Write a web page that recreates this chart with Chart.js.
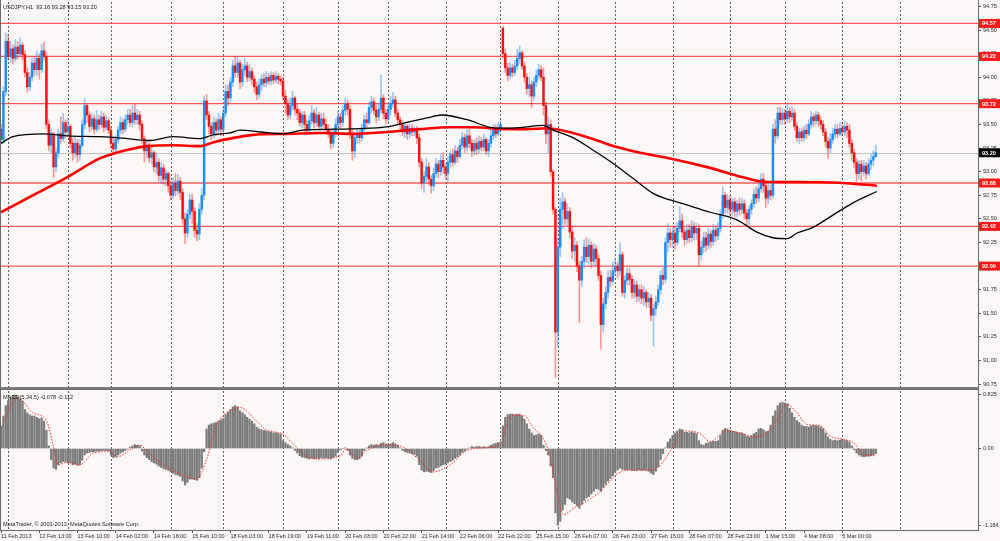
<!DOCTYPE html>
<html>
<head>
<meta charset="utf-8">
<script src="https://cdn.jsdelivr.net/npm/chart.js@4.4.0/dist/chart.umd.min.js"></script>
<style>
  html, body { margin: 0; padding: 0; background: #fcf8f7; }
  #wrap { position: relative; width: 1000px; height: 541px; overflow: hidden; }
  canvas { position: absolute; left: 0; }
  #priceCanvas { top: 0; }
  #macdCanvas { top: 389px; }
</style>
</head>
<body>
<div id="wrap">
  <canvas id="priceCanvas" width="1000" height="389"></canvas>
  <canvas id="macdCanvas" width="1000" height="152"></canvas>
</div>
<script>
// USDJPY H1 candles, one entry per hourly bar
const opens = [
  93.45,93.34,93.85,94.38,94.22,94.30,94.20,94.32,94.25,94.34,
  94.24,94.05,93.90,94.00,94.15,94.08,94.20,94.08,94.28,94.22,
  93.50,93.28,93.40,93.05,93.20,93.40,93.35,93.52,93.42,93.48,
  93.30,93.20,93.30,93.18,93.28,93.50,93.70,93.60,93.48,93.56,
  93.45,93.55,93.50,93.58,93.47,93.54,93.44,93.30,93.24,93.34,
  93.44,93.52,93.45,93.55,93.60,93.52,93.62,93.55,93.60,93.50,
  93.35,93.22,93.28,93.15,93.20,93.05,93.10,92.96,93.04,92.92,
  92.98,92.85,92.75,92.88,92.80,92.90,92.78,92.50,92.35,92.55,
  92.70,92.58,92.38,92.34,92.60,92.75,93.75,93.60,93.48,93.40,
  93.52,93.44,93.55,93.45,93.62,93.85,93.78,93.95,94.12,94.05,
  94.15,93.95,94.08,94.12,94.00,94.06,93.98,93.90,93.82,93.92,
  93.98,93.94,94.00,93.96,94.02,93.97,94.01,93.98,93.96,93.80,
  93.72,93.60,93.70,93.78,93.66,93.62,93.52,93.60,93.50,93.44,
  93.54,93.62,93.52,93.60,93.48,93.56,93.50,93.45,93.40,93.30,
  93.40,93.50,93.58,93.52,93.65,93.72,93.66,93.40,93.22,93.36,
  93.40,93.36,93.45,93.55,93.52,93.68,93.74,93.65,93.58,93.66,
  93.78,93.62,93.56,93.66,93.72,93.76,93.62,93.55,93.50,93.42,
  93.48,93.40,93.46,93.42,93.44,93.36,93.10,92.88,92.95,93.05,
  92.92,92.85,92.98,93.08,93.00,93.12,93.05,92.98,93.10,93.18,
  93.10,93.22,93.16,93.28,93.36,93.26,93.38,93.30,93.22,93.30,
  93.24,93.32,93.26,93.34,93.22,93.30,93.38,93.44,93.40,93.46,
  94.52,94.25,94.10,94.02,94.10,94.05,94.12,94.20,94.26,94.12,
  94.00,93.88,93.92,93.80,93.95,94.02,94.08,94.00,93.70,93.40,
  93.50,93.00,92.60,91.30,92.20,92.60,92.68,92.50,92.58,92.36,
  92.16,92.22,92.00,91.85,92.05,92.20,92.10,92.22,92.05,92.18,
  92.08,91.90,91.38,91.60,91.72,91.88,91.84,91.95,92.00,91.95,
  92.12,91.72,91.85,91.92,91.86,91.72,91.80,91.68,91.75,91.66,
  91.72,91.62,91.66,91.48,91.55,91.62,91.75,91.90,91.86,92.25,
  92.35,92.28,92.35,92.25,92.40,92.48,92.36,92.28,92.38,92.30,
  92.42,92.35,92.40,92.12,92.20,92.30,92.22,92.34,92.26,92.38,
  92.32,92.40,92.55,92.75,92.62,92.70,92.60,92.68,92.58,92.66,
  92.60,92.66,92.56,92.50,92.60,92.66,92.76,92.72,92.82,92.92,
  92.85,92.72,92.80,92.75,93.45,93.38,93.62,93.55,93.62,93.56,
  93.64,93.58,93.62,93.48,93.36,93.42,93.36,93.44,93.40,93.50,
  93.58,93.54,93.60,93.54,93.50,93.42,93.32,93.25,93.34,93.40,
  93.45,93.40,93.46,93.42,93.48,93.44,93.30,93.20,93.10,92.98,
  93.08,93.00,93.06,92.98,93.08,93.12,93.16
];
const highs = [
  93.50,93.90,94.47,94.45,94.38,94.34,94.40,94.38,94.42,94.37,
  94.28,94.10,94.05,94.20,94.22,94.28,94.25,94.35,94.37,94.26,
  93.55,93.45,93.42,93.25,93.45,93.58,93.62,93.55,93.56,93.50,
  93.35,93.36,93.34,93.34,93.55,93.78,93.72,93.64,93.62,93.60,
  93.65,93.60,93.64,93.62,93.60,93.57,93.48,93.36,93.38,93.48,
  93.58,93.56,93.60,93.66,93.66,93.70,93.72,93.66,93.64,93.54,
  93.38,93.33,93.31,93.26,93.22,93.20,93.14,93.10,93.08,93.02,
  93.00,92.90,92.94,92.98,92.97,92.94,92.82,92.56,92.60,92.76,
  92.76,92.62,92.45,92.66,92.82,93.80,93.82,93.64,93.52,93.58,
  93.56,93.62,93.58,93.68,93.92,93.92,94.00,94.18,94.22,94.21,
  94.18,94.14,94.20,94.16,94.14,94.10,94.02,93.95,93.98,94.03,
  94.04,94.06,94.04,94.06,94.05,94.06,94.04,94.02,94.00,93.86,
  93.76,93.78,93.85,93.80,93.72,93.66,93.64,93.64,93.55,93.60,
  93.70,93.66,93.68,93.63,93.62,93.62,93.56,93.50,93.44,93.46,
  93.56,93.64,93.62,93.70,93.78,93.76,93.70,93.45,93.40,93.45,
  93.44,93.50,93.60,93.62,93.74,93.80,93.78,93.70,93.72,94.02,
  93.82,93.66,93.72,93.80,93.84,93.80,93.66,93.58,93.54,93.52,
  93.50,93.50,93.50,93.48,93.48,93.40,93.14,93.00,93.14,93.10,
  92.96,93.04,93.14,93.12,93.18,93.20,93.08,93.16,93.22,93.24,
  93.28,93.26,93.34,93.42,93.40,93.44,93.46,93.34,93.34,93.36,
  93.38,93.36,93.40,93.36,93.34,93.44,93.50,93.50,93.52,93.54,
  94.54,94.30,94.15,94.16,94.14,94.18,94.30,94.33,94.28,94.16,
  94.04,94.00,93.96,94.00,94.08,94.14,94.12,94.10,93.74,93.58,
  93.55,93.02,92.62,92.30,92.72,92.78,92.72,92.66,92.62,92.42,
  92.30,92.26,92.05,92.10,92.28,92.30,92.28,92.26,92.24,92.22,
  92.12,91.95,91.66,91.78,91.95,91.96,92.04,92.08,92.04,92.25,
  92.15,91.90,91.98,91.98,91.90,91.86,91.84,91.80,91.80,91.78,
  91.75,91.72,91.70,91.60,91.68,91.80,91.95,91.98,92.30,92.45,
  92.40,92.40,92.42,92.46,92.63,92.55,92.40,92.44,92.44,92.48,
  92.46,92.45,92.44,92.26,92.36,92.36,92.40,92.38,92.44,92.42,
  92.46,92.60,92.84,92.78,92.76,92.74,92.72,92.72,92.70,92.72,
  92.72,92.70,92.60,92.64,92.70,92.82,92.84,92.88,92.98,92.98,
  92.90,92.86,92.86,93.50,93.55,93.68,93.68,93.67,93.66,93.71,
  93.68,93.68,93.66,93.52,93.46,93.46,93.48,93.50,93.55,93.64,
  93.62,93.64,93.63,93.58,93.54,93.46,93.36,93.40,93.46,93.50,
  93.50,93.52,93.52,93.54,93.52,93.50,93.34,93.24,93.14,93.12,
  93.12,93.12,93.10,93.14,93.18,93.22,93.28
];
const lows = [
  93.30,93.30,93.80,94.18,94.15,94.14,94.17,94.19,94.22,94.18,
  94.00,93.84,93.86,93.96,94.02,94.02,93.98,94.05,94.18,93.45,
  93.22,93.20,92.94,93.00,93.15,93.30,93.32,93.36,93.38,93.25,
  93.12,93.15,93.10,93.12,93.25,93.45,93.52,93.42,93.44,93.40,
  93.42,93.44,93.46,93.42,93.44,93.40,93.24,93.18,93.20,93.30,
  93.40,93.40,93.42,93.50,93.48,93.48,93.50,93.50,93.44,93.30,
  93.10,93.15,93.10,93.08,93.00,92.98,92.90,92.88,92.86,92.85,
  92.78,92.70,92.72,92.74,92.76,92.70,92.44,92.24,92.30,92.50,
  92.45,92.30,92.27,92.28,92.55,92.70,93.55,93.40,93.34,93.36,
  93.38,93.40,93.38,93.42,93.58,93.70,93.74,93.90,94.00,94.00,
  93.88,93.90,94.02,93.95,93.96,93.92,93.84,93.76,93.78,93.86,
  93.90,93.90,93.92,93.92,93.93,93.94,93.93,93.92,93.76,93.62,
  93.55,93.56,93.66,93.60,93.55,93.48,93.46,93.42,93.40,93.40,
  93.50,93.46,93.48,93.44,93.45,93.46,93.40,93.36,93.24,93.26,
  93.36,93.46,93.46,93.48,93.60,93.60,93.35,93.12,93.15,93.30,
  93.30,93.32,93.42,93.46,93.50,93.62,93.60,93.52,93.54,93.62,
  93.56,93.50,93.52,93.60,93.68,93.58,93.50,93.44,93.38,93.36,
  93.34,93.36,93.38,93.38,93.30,93.05,92.82,92.78,92.90,92.86,
  92.77,92.80,92.94,92.94,92.96,92.98,92.92,92.90,93.05,93.06,
  93.08,93.10,93.14,93.24,93.20,93.22,93.25,93.16,93.18,93.18,
  93.20,93.22,93.22,93.18,93.16,93.26,93.34,93.36,93.38,93.42,
  94.20,94.05,93.96,93.98,94.00,94.02,94.08,94.15,94.08,93.95,
  93.82,93.80,93.68,93.76,93.90,93.98,93.96,93.60,93.30,93.20,
  92.95,92.55,90.82,91.15,92.10,92.40,92.44,92.42,92.30,92.08,
  92.05,91.94,91.40,91.78,91.98,92.04,92.02,91.98,92.00,92.00,
  91.85,91.12,91.30,91.55,91.66,91.78,91.80,91.90,91.88,91.90,
  91.68,91.66,91.80,91.80,91.66,91.66,91.62,91.62,91.60,91.58,
  91.56,91.56,91.42,91.15,91.48,91.58,91.70,91.80,91.82,92.15,
  92.20,92.20,92.18,92.22,92.36,92.30,92.22,92.24,92.25,92.26,
  92.28,92.28,92.00,92.06,92.14,92.16,92.18,92.20,92.22,92.26,
  92.28,92.36,92.50,92.56,92.56,92.54,92.54,92.52,92.52,92.54,
  92.55,92.50,92.42,92.44,92.55,92.62,92.66,92.68,92.78,92.78,
  92.62,92.66,92.70,92.72,93.30,93.35,93.50,93.50,93.50,93.52,
  93.52,93.54,93.44,93.32,93.30,93.32,93.32,93.35,93.38,93.46,
  93.48,93.50,93.48,93.45,93.38,93.26,93.14,93.20,93.30,93.36,
  93.36,93.38,93.38,93.38,93.36,93.26,93.12,93.04,92.90,92.92,
  92.90,92.96,92.92,92.96,93.02,93.06,93.15
];
const closes = [
  93.34,93.85,94.38,94.22,94.30,94.20,94.32,94.25,94.34,94.24,
  94.05,93.90,94.00,94.15,94.08,94.20,94.08,94.28,94.22,93.50,
  93.28,93.40,93.05,93.20,93.40,93.35,93.52,93.42,93.48,93.30,
  93.20,93.30,93.18,93.28,93.50,93.70,93.60,93.48,93.56,93.45,
  93.55,93.50,93.58,93.47,93.54,93.44,93.30,93.24,93.34,93.44,
  93.52,93.45,93.55,93.60,93.52,93.62,93.55,93.60,93.50,93.35,
  93.22,93.28,93.15,93.20,93.05,93.10,92.96,93.04,92.92,92.98,
  92.85,92.75,92.88,92.80,92.90,92.78,92.50,92.35,92.55,92.70,
  92.58,92.38,92.34,92.60,92.75,93.75,93.60,93.48,93.40,93.52,
  93.44,93.55,93.45,93.62,93.85,93.78,93.95,94.12,94.05,94.15,
  93.95,94.08,94.12,94.00,94.06,93.98,93.90,93.82,93.92,93.98,
  93.94,94.00,93.96,94.02,93.97,94.01,93.98,93.96,93.80,93.72,
  93.60,93.70,93.78,93.66,93.62,93.52,93.60,93.50,93.44,93.54,
  93.62,93.52,93.60,93.48,93.56,93.50,93.45,93.40,93.30,93.40,
  93.50,93.58,93.52,93.65,93.72,93.66,93.40,93.22,93.36,93.40,
  93.36,93.45,93.55,93.52,93.68,93.74,93.65,93.58,93.66,93.78,
  93.62,93.56,93.66,93.72,93.76,93.62,93.55,93.50,93.42,93.48,
  93.40,93.46,93.42,93.44,93.36,93.10,92.88,92.95,93.05,92.92,
  92.85,92.98,93.08,93.00,93.12,93.05,92.98,93.10,93.18,93.10,
  93.22,93.16,93.28,93.36,93.26,93.38,93.30,93.22,93.30,93.24,
  93.32,93.26,93.34,93.22,93.30,93.38,93.44,93.40,93.46,93.50,
  94.25,94.10,94.02,94.10,94.05,94.12,94.20,94.26,94.12,94.00,
  93.88,93.92,93.80,93.95,94.02,94.08,94.00,93.70,93.40,93.50,
  93.00,92.60,91.30,92.20,92.60,92.68,92.50,92.58,92.36,92.16,
  92.22,92.00,91.85,92.05,92.20,92.10,92.22,92.05,92.18,92.08,
  91.90,91.38,91.60,91.72,91.88,91.84,91.95,92.00,91.95,92.12,
  91.72,91.85,91.92,91.86,91.72,91.80,91.68,91.75,91.66,91.72,
  91.62,91.66,91.48,91.55,91.62,91.75,91.90,91.86,92.25,92.35,
  92.28,92.35,92.25,92.40,92.48,92.36,92.28,92.38,92.30,92.42,
  92.35,92.40,92.12,92.20,92.30,92.22,92.34,92.26,92.38,92.32,
  92.40,92.55,92.75,92.62,92.70,92.60,92.68,92.58,92.66,92.60,
  92.66,92.56,92.50,92.60,92.66,92.76,92.72,92.82,92.92,92.85,
  92.72,92.80,92.75,93.45,93.38,93.62,93.55,93.62,93.56,93.64,
  93.58,93.62,93.48,93.36,93.42,93.36,93.44,93.40,93.50,93.58,
  93.54,93.60,93.54,93.50,93.42,93.32,93.25,93.34,93.40,93.45,
  93.40,93.46,93.42,93.48,93.44,93.30,93.20,93.10,92.98,93.08,
  93.00,93.06,92.98,93.08,93.12,93.16,93.20
];

// moving averages at the bars where they bend
const maBlackIdx = [0, 5, 17.6, 27.6, 41.4, 48.5, 62.3, 72, 83.3, 88.7, 95.8, 100, 108.4, 118, 126.4, 140.6, 154.4, 162.8, 171.1, 178.2, 184.5, 195, 204.6, 209.6, 218.4, 226.8, 231, 239.3, 246.4, 256, 264.4, 272.8, 280, 284.1, 296.7, 307.9, 316.3, 323, 328.9, 333.1, 339.7, 348.1, 356.5, 366.5];
const maBlackVal = [93.30, 93.37, 93.40, 93.38, 93.37, 93.36, 93.33, 93.37, 93.35, 93.39, 93.41, 93.44, 93.42, 93.40, 93.44, 93.45, 93.46, 93.48, 93.53, 93.57, 93.60, 93.55, 93.47, 93.46, 93.47, 93.49, 93.44, 93.36, 93.25, 93.09, 92.93, 92.77, 92.70, 92.67, 92.57, 92.49, 92.36, 92.30, 92.29, 92.35, 92.41, 92.54, 92.67, 92.79];
const maRedIdx = [0, 13.4, 27.6, 41.4, 52.7, 61.1, 72, 83.3, 88.7, 95.8, 105.4, 119.7, 133.5, 147.3, 161.5, 175.3, 187.9, 197.5, 211.7, 220, 228.5, 239.3, 249.4, 257.7, 267.4, 280, 296.7, 310.5, 320.5, 331.4, 352.3, 366.5];
const maRedVal = [92.57, 92.75, 92.94, 93.14, 93.23, 93.27, 93.28, 93.27, 93.31, 93.35, 93.39, 93.40, 93.41, 93.40, 93.42, 93.45, 93.47, 93.47, 93.45, 93.45, 93.46, 93.41, 93.33, 93.26, 93.20, 93.14, 93.04, 92.94, 92.89, 92.89, 92.88, 92.85];

// MACD(5,34,5) histogram, one per bar
const macdHist = [
  0.35,0.50,0.66,0.74,0.78,0.82,0.825,0.79,0.76,0.73,
  0.60,0.55,0.52,0.50,0.50,0.48,0.46,0.47,0.42,0.28,
  0.04,-0.17,-0.30,-0.32,-0.25,-0.22,-0.20,-0.20,-0.22,-0.22,
  -0.25,-0.24,-0.26,-0.25,-0.18,-0.10,-0.07,-0.06,-0.05,-0.05,
  -0.04,-0.04,-0.03,-0.03,-0.03,-0.04,-0.10,-0.14,-0.13,-0.10,
  -0.07,-0.05,-0.03,-0.01,0.02,0.04,0.06,0.05,0.04,-0.04,
  -0.10,-0.14,-0.17,-0.20,-0.22,-0.24,-0.27,-0.29,-0.31,-0.32,
  -0.34,-0.36,-0.38,-0.40,-0.41,-0.43,-0.50,-0.56,-0.52,-0.47,
  -0.47,-0.48,-0.49,-0.45,-0.30,-0.05,0.30,0.36,0.38,0.39,
  0.40,0.42,0.44,0.46,0.52,0.56,0.60,0.64,0.66,0.64,
  0.58,0.55,0.52,0.48,0.45,0.42,0.38,0.33,0.30,0.29,
  0.28,0.27,0.26,0.25,0.24,0.24,0.23,0.22,0.12,0.09,
  0.06,0.04,0.01,-0.03,-0.07,-0.11,-0.13,-0.14,-0.15,-0.16,
  -0.15,-0.16,-0.15,-0.16,-0.14,-0.15,-0.14,-0.15,-0.16,-0.14,
  -0.12,-0.06,-0.02,0.00,0.01,-0.03,-0.10,-0.15,-0.17,-0.17,
  -0.16,-0.12,-0.03,0.01,0.04,0.06,0.05,0.06,0.05,0.08,
  0.09,0.07,0.06,0.07,0.09,0.07,0.05,0.01,-0.03,-0.05,
  -0.06,-0.07,-0.08,-0.09,-0.12,-0.25,-0.33,-0.36,-0.35,-0.36,
  -0.37,-0.34,-0.30,-0.29,-0.27,-0.25,-0.24,-0.22,-0.20,-0.18,
  -0.15,-0.13,-0.10,-0.06,-0.04,-0.01,0.01,0.03,0.02,0.03,
  0.03,0.02,0.03,0.02,0.03,0.05,0.07,0.08,0.09,0.10,
  0.35,0.48,0.52,0.53,0.53,0.52,0.53,0.53,0.50,0.45,
  0.38,0.30,0.24,0.20,0.21,0.22,0.20,0.05,-0.03,-0.10,
  -0.27,-0.45,-0.99,-1.18,-1.12,-0.95,-0.86,-0.76,-0.78,-0.82,
  -0.85,-0.88,-0.92,-0.86,-0.80,-0.76,-0.74,-0.70,-0.66,-0.62,
  -0.63,-0.66,-0.60,-0.55,-0.50,-0.46,-0.42,-0.37,-0.33,-0.30,
  -0.32,-0.33,-0.33,-0.33,-0.34,-0.34,-0.34,-0.33,-0.34,-0.33,
  -0.34,-0.35,-0.38,-0.40,-0.35,-0.28,-0.17,-0.08,0.01,0.10,
  0.15,0.20,0.24,0.27,0.30,0.29,0.25,0.25,0.24,0.25,
  0.24,0.23,0.12,0.06,0.05,0.08,0.09,0.10,0.11,0.11,
  0.12,0.20,0.28,0.31,0.30,0.28,0.27,0.26,0.25,0.24,
  0.24,0.22,0.19,0.18,0.20,0.23,0.25,0.30,0.31,0.29,
  0.26,0.27,0.36,0.50,0.58,0.66,0.70,0.71,0.70,0.69,
  0.62,0.55,0.48,0.43,0.40,0.36,0.34,0.34,0.33,0.35,
  0.36,0.35,0.34,0.33,0.30,0.24,0.18,0.14,0.12,0.13,
  0.12,0.13,0.14,0.13,0.12,0.10,0.04,-0.02,-0.07,-0.10,
  -0.12,-0.13,-0.12,-0.12,-0.11,-0.10,-0.08
];
const signalIdx = [1, 6.6, 13.5, 19.1, 21.9, 24, 27.5, 33, 38.6, 45.6, 48.4, 55.4, 58, 62.3, 69.3, 77.7, 81.9, 86, 90.2, 97.2, 100, 107, 111, 118, 122, 128, 133.5, 142, 144.6, 148.8, 153, 160, 167, 174, 181, 188, 195, 202, 209, 213, 218.6, 222.8, 227, 229.7, 232.5, 235.3, 239.5, 243.7, 250.7, 257.6, 261.8, 271.6, 275.8, 281.4, 285.6, 292.5, 296.7, 303.7, 309.3, 314.9, 320.5, 324.7, 328.9, 333, 337.3, 342.8, 347, 352.6, 356.8, 361, 366];
const signalVal = [0.40, 0.79, 0.55, 0.42, 0.04, -0.25, -0.21, -0.25, -0.07, -0.04, -0.13, 0.01, 0.05, -0.09, -0.28, -0.43, -0.47, -0.17, 0.35, 0.61, 0.63, 0.42, 0.29, 0.22, 0.08, -0.12, -0.16, -0.11, 0.00, -0.14, -0.03, 0.06, 0.04, -0.14, -0.36, -0.25, -0.03, 0.01, 0.06, 0.50, 0.51, 0.32, 0.15, -0.12, -0.64, -1.02, -0.92, -0.84, -0.66, -0.40, -0.33, -0.33, -0.26, 0.04, 0.27, 0.23, 0.11, 0.27, 0.24, 0.18, 0.24, 0.45, 0.68, 0.55, 0.37, 0.35, 0.19, 0.14, 0.09, -0.09, -0.112];

// horizontal levels and axis labels
const levels = [94.57, 94.22, 93.72, 92.88, 92.42, 92.00];
const lastPrice = 93.20;
const priceTicks = [94.75, 94.50, 94.25, 94.00, 93.75, 93.50, 93.25, 93.00, 92.75, 92.50, 92.25, 92.00, 91.75, 91.50, 91.25, 91.00, 90.75];
const macdTicks = [0.825, 0, -1.184];
const macdTickLabels = ['0.825', '0.00', '-1.184'];
const xLabelIdx = [0, 16, 32, 48, 64, 80, 96, 112, 128, 144, 160, 176, 192, 208, 224, 240, 256, 272, 288, 304, 320, 336, 352];
const xLabels = ['11 Feb 2013', '12 Feb 13:00', '13 Feb 10:00', '14 Feb 02:00', '14 Feb 18:00', '15 Feb 10:00', '18 Feb 03:00', '18 Feb 19:00', '19 Feb 11:00', '20 Feb 03:00', '20 Feb 22:00', '21 Feb 14:00', '22 Feb 06:00', '22 Feb 22:00', '25 Feb 15:00', '26 Feb 07:00', '26 Feb 23:00', '27 Feb 15:00', '28 Feb 07:00', '28 Feb 23:00', '1 Mar 15:00', '4 Mar 08:00', '5 Mar 00:00'];
const dayStarts = [3, 28, 46, 71, 93, 118, 141, 162, 186, 209, 233, 257, 281, 305, 328, 352, 376];

const X_MIN = -0.42, X_MAX = 408.8;
const FONT = 'Liberation Sans';
const FRAME = '#6a6a6a';

Chart.defaults.font.family = FONT;
Chart.defaults.animation = false;

const upColor = '#1e8cf5', downColor = '#f41212';
const upWick = 'rgba(30,140,245,0.45)', downWick = 'rgba(244,18,18,0.42)';
const isUp = closes.map((c, i) => c >= opens[i]);

const wickData = closes.map((_, i) => ({ x: i, y: [lows[i], highs[i]] }));
const bodyData = closes.map((_, i) => ({ x: i, y: [opens[i], closes[i]] }));
const toPoints = (idx, vals) => idx.map((x, k) => ({ x: x, y: vals[k] }));

const dayGrid = {
    id: 'dayGrid',
    beforeDatasetsDraw(chart) {
        const { ctx, chartArea: a, scales: { x } } = chart;
        ctx.save();
        ctx.strokeStyle = '#5c5c5c';
        ctx.lineWidth = 1;
        ctx.setLineDash([2, 2]);
        dayStarts.forEach(d => {
            const px = Math.round(x.getPixelForValue(d)) + 0.5;
            ctx.beginPath();
            ctx.moveTo(px, a.top);
            ctx.lineTo(px, a.bottom);
            ctx.stroke();
        });
        ctx.restore();
    }
};

const priceDecor = {
    id: 'priceDecor',
    beforeDatasetsDraw(chart) {
        const { ctx, chartArea: a, scales: { y } } = chart;
        ctx.save();
        ctx.strokeStyle = 'rgba(255,70,70,0.9)';
        ctx.lineWidth = 1.3;
        levels.forEach(v => {
            const py = y.getPixelForValue(v);
            ctx.beginPath();
            ctx.moveTo(a.left, py);
            ctx.lineTo(a.right, py);
            ctx.stroke();
        });
        ctx.strokeStyle = '#c4c4c4';
        ctx.lineWidth = 1;
        const lp = Math.round(y.getPixelForValue(lastPrice)) + 0.5;
        ctx.beginPath();
        ctx.moveTo(a.left, lp);
        ctx.lineTo(a.right, lp);
        ctx.stroke();
        ctx.restore();
    },
    afterDraw(chart) {
        const { ctx, chartArea: a, scales: { y } } = chart;
        ctx.save();
        ctx.strokeStyle = FRAME;
        ctx.lineWidth = 1;
        ctx.beginPath();
        ctx.moveTo(a.left + 0.5, 0);
        ctx.lineTo(a.left + 0.5, a.bottom);
        ctx.moveTo(a.right + 0.5, 0);
        ctx.lineTo(a.right + 0.5, a.bottom);
        ctx.stroke();
        ctx.fillStyle = '#7a7a7a';
        ctx.fillRect(0, a.bottom, a.right + 1, 2);

        // level tags on the price scale
        ctx.font = 'bold 5.5px ' + FONT;
        ctx.textBaseline = 'middle';
        const tag = (v, fill) => {
            const py = y.getPixelForValue(v);
            ctx.fillStyle = fill;
            ctx.fillRect(a.right + 1, py - 4.5, 22, 9);
            ctx.fillStyle = '#ffffff';
            ctx.fillText(v.toFixed(2), a.right + 4, py + 0.5);
        };
        levels.forEach(v => tag(v, '#ff1a1a'));
        tag(lastPrice, '#000000');

        ctx.font = '5.6px ' + FONT;
        ctx.fillStyle = '#202020';
        ctx.fillText('USDJPY,H1  93.16 93.28 93.15 93.20', 3, 7.5);
        ctx.restore();
    }
};

const macdDecor = {
    id: 'macdDecor',
    afterDraw(chart) {
        const { ctx, chartArea: a } = chart;
        ctx.save();
        ctx.strokeStyle = FRAME;
        ctx.lineWidth = 1;
        ctx.beginPath();
        ctx.moveTo(0, 0.5);
        ctx.lineTo(a.right + 1, 0.5);
        ctx.moveTo(a.left + 0.5, 0);
        ctx.lineTo(a.left + 0.5, a.bottom);
        ctx.moveTo(a.right + 0.5, 0);
        ctx.lineTo(a.right + 0.5, a.bottom);
        ctx.moveTo(0, a.bottom + 0.5);
        ctx.lineTo(a.right + 1, a.bottom + 0.5);
        ctx.stroke();
        ctx.font = '5.6px ' + FONT;
        ctx.fillStyle = '#202020';
        ctx.textBaseline = 'middle';
        ctx.fillText('MACD(5,34,5) -0.078 -0.112', 3, 8);
        ctx.fillText('MetaTrader, \u00a9 2001-2013, MetaQuotes Software Corp.', 3, 135.5);
        ctx.restore();
    }
};

const yAxisFit = s => { s.width = 22; s.paddingTop = 0; s.paddingBottom = 0; };

new Chart(document.getElementById('priceCanvas'), {
    type: 'bar',
    data: {
        datasets: [
            {
                type: 'line',
                data: toPoints(maBlackIdx, maBlackVal),
                borderColor: '#000000',
                borderWidth: 1.3,
                pointRadius: 0,
                cubicInterpolationMode: 'monotone',
                order: 0
            },
            {
                type: 'line',
                data: toPoints(maRedIdx, maRedVal),
                borderColor: '#ff0000',
                borderWidth: 2.6,
                pointRadius: 0,
                cubicInterpolationMode: 'monotone',
                order: 1
            },
            {
                data: bodyData,
                backgroundColor: isUp.map(u => u ? upColor : downColor),
                barThickness: 1.8,
                minBarLength: 1,
                grouped: false,
                borderWidth: 0,
                order: 2
            },
            {
                data: wickData,
                backgroundColor: isUp.map(u => u ? upWick : downWick),
                barThickness: 1,
                grouped: false,
                borderWidth: 0,
                order: 3
            }
        ]
    },
    options: {
        responsive: false,
        events: [],
        layout: { padding: { top: 2, bottom: 2, left: 0, right: 0 } },
        plugins: { legend: { display: false }, tooltip: { enabled: false } },
        scales: {
            x: { type: 'linear', min: X_MIN, max: X_MAX, offset: false, bounds: 'data', display: false },
            y: {
                position: 'right',
                min: 90.719,
                max: 94.797,
                afterBuildTicks: s => { s.ticks = priceTicks.map(v => ({ value: v })); },
                afterFit: yAxisFit,
                ticks: {
                    font: { size: 5.5 },
                    color: '#2a2a2a',
                    padding: 2,
                    callback: v => v.toFixed(2)
                },
                grid: { drawOnChartArea: false, tickLength: 3, color: '#555555' },
                border: { display: false }
            }
        }
    },
    plugins: [dayGrid, priceDecor]
});

new Chart(document.getElementById('macdCanvas'), {
    type: 'bar',
    data: {
        datasets: [
            {
                type: 'line',
                data: toPoints(signalIdx, signalVal),
                borderColor: '#ff2a2a',
                borderWidth: 1,
                borderDash: [1.5, 1.5],
                pointRadius: 0,
                cubicInterpolationMode: 'monotone',
                order: 0
            },
            {
                data: macdHist.map((v, i) => ({ x: i, y: v })),
                backgroundColor: '#7b7b7b',
                barThickness: 1.6,
                grouped: false,
                borderWidth: 0,
                order: 1
            }
        ]
    },
    options: {
        responsive: false,
        events: [],
        layout: { padding: { top: 2, bottom: 0, left: 0, right: 0 } },
        plugins: { legend: { display: false }, tooltip: { enabled: false } },
        scales: {
            x: {
                type: 'linear',
                min: X_MIN,
                max: X_MAX,
                offset: false,
                bounds: 'data',
                position: 'bottom',
                afterBuildTicks: s => { s.ticks = xLabelIdx.map(v => ({ value: v })); },
                afterFit: s => { s.height = 11; s.paddingLeft = 0; s.paddingRight = 0; },
                ticks: {
                    autoSkip: false,
                    maxRotation: 0,
                    minRotation: 0,
                    align: 'start',
                    font: { size: 5.5 },
                    color: '#2a2a2a',
                    padding: 0,
                    callback: (v, i) => xLabels[i]
                },
                grid: { drawOnChartArea: false, offset: false, tickLength: 3, color: '#555555' },
                border: { display: false }
            },
            y: {
                position: 'right',
                min: -1.254,
                max: 0.885,
                afterBuildTicks: s => { s.ticks = macdTicks.map(v => ({ value: v })); },
                afterFit: yAxisFit,
                ticks: {
                    font: { size: 5.5 },
                    color: '#2a2a2a',
                    padding: 2,
                    callback: (v, i) => macdTickLabels[i]
                },
                grid: { drawOnChartArea: false, tickLength: 3, color: '#555555' },
                border: { display: false }
            }
        }
    },
    plugins: [dayGrid, macdDecor]
});
</script>
</body>
</html>
